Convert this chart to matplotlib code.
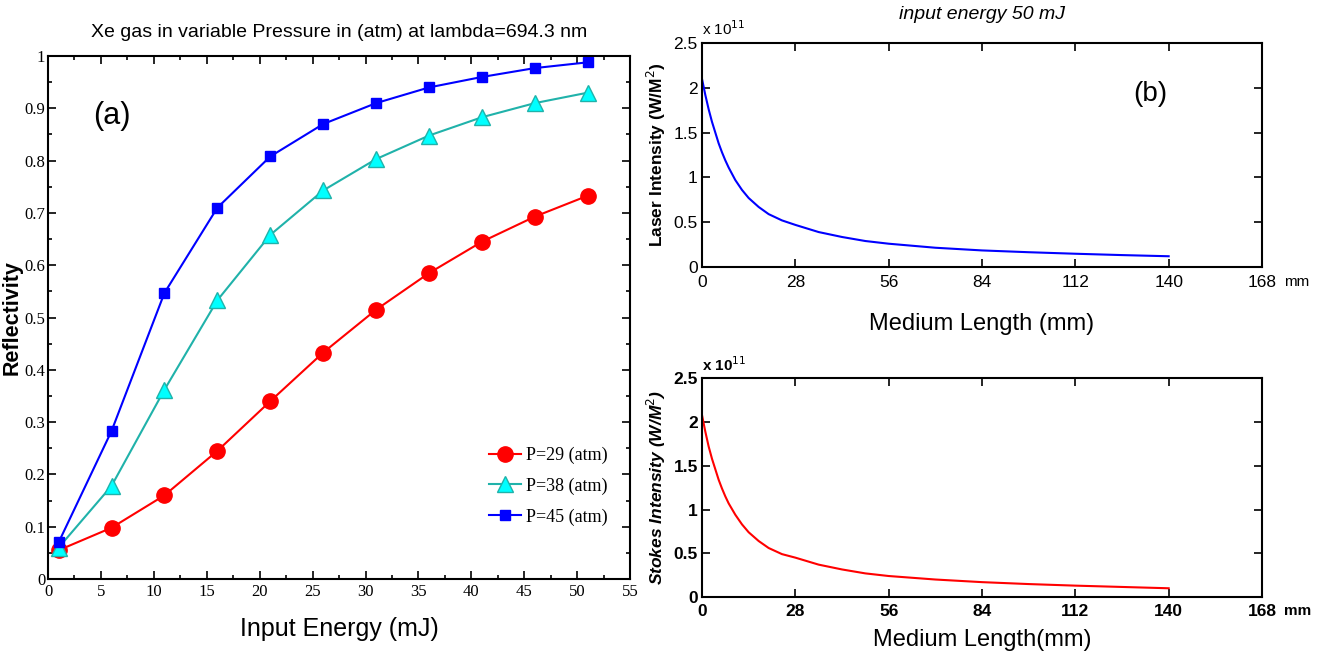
import numpy as np
import matplotlib.pyplot as plt
from matplotlib.ticker import MultipleLocator

# panel (a): reflectivity vs input energy
energy = [1, 6, 11, 16, 21, 26, 31, 36, 41, 46, 51]
r_p29 = [0.055, 0.098, 0.160, 0.245, 0.340, 0.433, 0.515, 0.585, 0.645, 0.693, 0.733]
r_p38 = [0.060, 0.178, 0.362, 0.533, 0.658, 0.743, 0.803, 0.848, 0.883, 0.910, 0.930]
r_p45 = [0.070, 0.283, 0.547, 0.710, 0.808, 0.870, 0.910, 0.940, 0.960, 0.977, 0.988]

# panel (b): intensities along the medium (units of 1e11 W/m^2)
length = [0, 1, 2, 3, 4, 5, 6, 7, 8, 10, 12, 14, 17, 20, 24, 28, 35, 42, 49,
          56, 70, 84, 98, 112, 126, 140]
laser = [2.10, 1.92, 1.76, 1.62, 1.50, 1.38, 1.28, 1.19, 1.11, 0.97, 0.86,
         0.77, 0.67, 0.59, 0.52, 0.47, 0.39, 0.335, 0.29, 0.26, 0.215, 0.185,
         0.165, 0.148, 0.133, 0.120]
stokes = [2.08, 1.89, 1.72, 1.58, 1.46, 1.34, 1.24, 1.15, 1.07, 0.94, 0.83,
          0.74, 0.64, 0.56, 0.49, 0.45, 0.37, 0.315, 0.27, 0.24, 0.20, 0.17,
          0.148, 0.130, 0.115, 0.100]

sans = 'Liberation Sans'
serif = 'Liberation Serif'

fig = plt.figure(figsize=(13.23, 6.57), dpi=100)

ax = fig.add_axes([0.0363, 0.1187, 0.44, 0.796])
ax.plot(energy, r_p29, '-', color='red', marker='o', ms=11, lw=1.5,
        label='P=29 (atm)')
ax.plot(energy, r_p38, '-', color='#20b2aa', marker='^', ms=11, lw=1.5,
        mfc='cyan', mec='#20b2aa', label='P=38 (atm)')
ax.plot(energy, r_p45, '-', color='blue', marker='s', ms=7, lw=1.5,
        label='P=45 (atm)')
ax.set_xlim(0, 55)
ax.set_ylim(0, 1)
ax.xaxis.set_major_locator(MultipleLocator(5))
ax.xaxis.set_minor_locator(MultipleLocator(2.5))
ax.yaxis.set_minor_locator(MultipleLocator(0.05))
ax.set_yticks(np.arange(0, 1.01, 0.1))
ax.set_yticklabels(['0'] + ['%.1f' % v for v in np.arange(0.1, 0.95, 0.1)] + ['1'])
ax.tick_params(which='both', direction='in', top=True, right=True, width=1.2)
ax.tick_params(which='major', length=6)
ax.tick_params(which='minor', length=3)
ax.tick_params(axis='y', pad=2)
for lab in ax.get_xticklabels() + ax.get_yticklabels():
    lab.set_fontfamily(serif)
    lab.set_fontsize(12)
for s in ax.spines.values():
    s.set_linewidth(1.5)
ax.set_xlabel('Input Energy (mJ)', fontfamily=sans, fontsize=18, labelpad=12)
ax.set_ylabel('Reflectivity', fontfamily=sans, fontsize=15.5, fontweight='bold')
ax.yaxis.set_label_coords(-0.043, 0.5)
ax.set_title('Xe gas in variable Pressure in (atm) at lambda=694.3 nm',
             fontfamily=sans, fontsize=14, pad=14)
ax.text(0.11, 0.885, '(a)', transform=ax.transAxes, fontfamily=sans,
        fontsize=22, ha='center', va='center')
ax.legend(loc='lower right', bbox_to_anchor=(0.99, 0.071), frameon=False,
          prop={'family': serif, 'size': 13}, handlelength=1.8,
          handletextpad=0.3, labelspacing=0.75)


def intensity_panel(rect, y, color, ylabel, xlabel, bold_ticks):
    a = fig.add_axes(rect)
    a.plot(length, y, '-', color=color, lw=1.5)
    a.set_xlim(0, 168)
    a.set_ylim(0, 2.5)
    a.set_xticks(np.arange(0, 169, 28))
    a.set_yticks([0, 0.5, 1, 1.5, 2, 2.5])
    a.set_yticklabels(['0', '0.5', '1', '1.5', '2', '2.5'])
    a.tick_params(direction='in', top=True, right=True, length=6, width=1.2,
                  pad=3)
    a.tick_params(axis='x', pad=6 if not bold_ticks else 5)
    w = 'bold' if bold_ticks else 'normal'
    for lab in a.get_xticklabels() + a.get_yticklabels():
        lab.set_fontfamily(sans)
        lab.set_fontsize(12.5)
        lab.set_fontweight(w)
    for s in a.spines.values():
        s.set_linewidth(1.5)
    a.set_xlabel(xlabel, fontfamily=sans, fontsize=17)
    a.set_ylabel(ylabel, fontfamily=sans, fontsize=12.5, fontweight='bold',
                 style='italic' if bold_ticks else 'normal', labelpad=4)
    a.text(0.0, 1.02, r'x 10$^{11}$', transform=a.transAxes, fontfamily=sans,
           fontsize=11, fontweight=w, ha='left', va='bottom')
    a.text(1.04, -0.065, 'mm', transform=a.transAxes, fontfamily=sans,
           fontsize=11, fontweight=w, ha='left', va='center')
    return a


ax1 = intensity_panel([0.5306, 0.5936, 0.4233, 0.341], laser, 'blue',
                      r'Laser Intensity (W/M$^2$)', 'Medium Length (mm)', False)
ax1.set_title('input energy 50 mJ', fontfamily=sans, fontsize=14,
              style='italic', pad=17)
ax1.text(0.8, 0.77, '(b)', transform=ax1.transAxes, fontfamily=sans,
         fontsize=20, ha='center', va='center')
ax1.xaxis.labelpad = 16

ax2 = intensity_panel([0.5306, 0.0913, 0.4233, 0.333], stokes, 'red',
                      r'Stokes Intensity (W/M$^2$)', 'Medium Length(mm)', True)
ax2.xaxis.labelpad = 7

fig.savefig('out.png', dpi=100)
